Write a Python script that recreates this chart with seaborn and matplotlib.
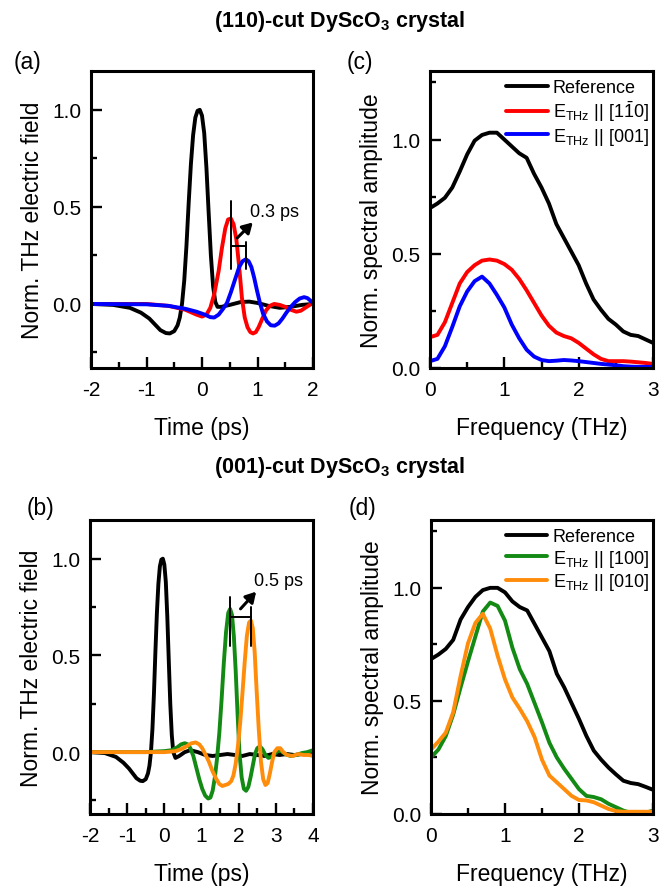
import numpy as np
import pandas as pd
import seaborn as sns
import matplotlib.pyplot as plt
from matplotlib.ticker import MultipleLocator

# ---- panel (a): time traces, (110)-cut
t_a_ref = [-2.0, -1.6, -1.3, -1.1, -0.95, -0.85, -0.75, -0.65, -0.58, -0.5, -0.44, -0.4, -0.36, -0.32,
           -0.28, -0.24, -0.2, -0.16, -0.12, -0.08, -0.04, 0.0, 0.04, 0.08, 0.12, 0.16, 0.2, 0.24, 0.28,
           0.35, 0.5, 0.7, 0.85, 1.0, 1.2, 1.4, 1.6, 1.8, 2.0]
e_a_ref = [0.0, -0.005, -0.02, -0.045, -0.075, -0.105, -0.135, -0.15, -0.152, -0.14, -0.11, -0.07, 0.0,
           0.12, 0.3, 0.52, 0.72, 0.87, 0.96, 0.995, 1.0, 0.97, 0.88, 0.7, 0.47, 0.25, 0.09, 0.01, -0.015,
           -0.015, -0.005, 0.01, 0.012, 0.005, -0.01, -0.02, -0.015, -0.005, 0.0]
t_a_red = [-2.0, -1.0, -0.6, -0.3, -0.1, 0.0, 0.08, 0.15, 0.22, 0.3, 0.36, 0.42, 0.47, 0.52, 0.57, 0.62,
           0.67, 0.72, 0.77, 0.82, 0.87, 0.92, 0.97, 1.02, 1.08, 1.15, 1.22, 1.3, 1.4, 1.5, 1.6, 1.7,
           1.78, 1.86, 1.94, 2.0]
e_a_red = [0.0, 0.0, -0.01, -0.03, -0.055, -0.065, -0.055, -0.02, 0.05, 0.17, 0.29, 0.39, 0.435, 0.44,
           0.41, 0.33, 0.19, 0.03, -0.07, -0.12, -0.145, -0.152, -0.145, -0.12, -0.08, -0.035, -0.01,
           0.0, -0.005, -0.015, -0.03, -0.04, -0.035, -0.02, -0.005, 0.005]
t_a_blue = [-2.0, -1.0, -0.6, -0.3, -0.1, 0.05, 0.15, 0.22, 0.3, 0.38, 0.45, 0.52, 0.6, 0.67, 0.73,
            0.79, 0.84, 0.89, 0.94, 0.99, 1.04, 1.1, 1.17, 1.24, 1.31, 1.38, 1.45, 1.52, 1.6, 1.68,
            1.76, 1.84, 1.9, 1.95, 2.0]
e_a_blue = [0.0, -0.002, -0.01, -0.025, -0.04, -0.055, -0.068, -0.07, -0.055, -0.025, 0.005, 0.06,
            0.13, 0.19, 0.22, 0.23, 0.22, 0.19, 0.135, 0.07, 0.01, -0.05, -0.09, -0.11, -0.112, -0.1,
            -0.075, -0.045, -0.015, 0.01, 0.028, 0.035, 0.03, 0.018, 0.005]

# ---- panel (b): time traces, (001)-cut
t_b_ref = [-2.0, -1.6, -1.3, -1.1, -0.95, -0.85, -0.75, -0.65, -0.58, -0.5, -0.44, -0.4, -0.36, -0.32,
           -0.28, -0.24, -0.2, -0.16, -0.12, -0.08, -0.04, 0.0, 0.04, 0.08, 0.12, 0.16, 0.2, 0.24, 0.3,
           0.4, 0.55, 0.7, 0.9, 1.1, 1.3, 1.5, 1.7, 1.9, 2.1, 2.3, 2.5, 2.7, 2.9, 3.1, 3.3, 3.5, 3.7,
           3.9, 4.0]
e_b_ref = [0.0, -0.005, -0.025, -0.055, -0.085, -0.11, -0.135, -0.148, -0.15, -0.14, -0.11, -0.07, 0.0,
           0.12, 0.3, 0.52, 0.72, 0.87, 0.96, 0.995, 1.0, 0.97, 0.88, 0.7, 0.47, 0.25, 0.09, 0.0, -0.03,
           -0.02, 0.0, 0.01, 0.0, -0.015, -0.02, -0.015, -0.01, -0.015, -0.02, -0.01, -0.015, -0.02,
           -0.01, -0.015, -0.01, -0.015, -0.01, -0.005, 0.0]
t_b_green = [-2.0, -1.0, -0.5, 0.0, 0.2, 0.35, 0.45, 0.55, 0.63, 0.7, 0.78, 0.86, 0.94, 1.02, 1.1, 1.18,
             1.24, 1.3, 1.36, 1.42, 1.48, 1.54, 1.6, 1.66, 1.72, 1.77, 1.82, 1.87, 1.92, 1.97, 2.02,
             2.08, 2.14, 2.2, 2.26, 2.32, 2.38, 2.44, 2.5, 2.57, 2.64, 2.72, 2.8, 2.88, 2.96, 3.05,
             3.15, 3.25, 3.4, 3.55, 3.7, 3.85, 4.0]
e_b_green = [0.0, 0.0, 0.0, 0.005, 0.01, 0.025, 0.04, 0.046, 0.04, 0.02, -0.02, -0.08, -0.14, -0.19,
             -0.225, -0.24, -0.235, -0.2, -0.13, -0.03, 0.1, 0.27, 0.46, 0.62, 0.72, 0.74, 0.71, 0.6,
             0.42, 0.2, 0.0, -0.13, -0.19, -0.2, -0.18, -0.13, -0.07, -0.01, 0.02, 0.03, 0.015,
             -0.015, -0.03, -0.025, -0.01, 0.005, 0.005, -0.01, -0.02, -0.015, -0.005, 0.0, 0.01]
t_b_orange = [-2.0, -1.0, 0.0, 0.3, 0.45, 0.6, 0.72, 0.84, 0.94, 1.02, 1.1, 1.2, 1.3, 1.4, 1.48, 1.56,
              1.64, 1.72, 1.8, 1.86, 1.92, 1.98, 2.04, 2.1, 2.16, 2.22, 2.28, 2.33, 2.38, 2.43, 2.48,
              2.54, 2.6, 2.66, 2.72, 2.78, 2.84, 2.9, 2.96, 3.04, 3.12, 3.2, 3.3, 3.45, 3.6, 3.75,
              3.9, 4.0]
e_b_orange = [0.0, 0.0, 0.0, 0.005, 0.015, 0.03, 0.045, 0.05, 0.04, 0.02, -0.01, -0.05, -0.1, -0.14,
              -0.165, -0.175, -0.17, -0.165, -0.15, -0.12, -0.06, 0.03, 0.15, 0.3, 0.46, 0.6, 0.67,
              0.68, 0.64, 0.52, 0.33, 0.12, -0.05, -0.14, -0.17, -0.16, -0.11, -0.05, 0.0, 0.02, 0.02,
              0.0, -0.015, -0.02, -0.01, -0.015, -0.015, -0.02]

# ---- panels (c), (d): spectra, 0.1 THz steps
freq = [0.0, 0.1, 0.2, 0.3, 0.4, 0.5, 0.6, 0.7, 0.8, 0.9, 1.0, 1.1, 1.2, 1.3, 1.4, 1.5, 1.6, 1.7, 1.8,
        1.9, 2.0, 2.1, 2.2, 2.3, 2.4, 2.5, 2.6, 2.7, 2.8, 2.9, 3.0]
s_c_ref = [0.70, 0.72, 0.745, 0.79, 0.86, 0.935, 0.995, 1.02, 1.03, 1.03, 1.0, 0.97, 0.94, 0.92, 0.85,
           0.79, 0.72, 0.63, 0.57, 0.51, 0.45, 0.37, 0.30, 0.255, 0.215, 0.19, 0.16, 0.145, 0.14, 0.125,
           0.11]
s_c_red = [0.135, 0.145, 0.20, 0.285, 0.37, 0.42, 0.45, 0.47, 0.475, 0.47, 0.455, 0.43, 0.39, 0.34,
           0.285, 0.23, 0.185, 0.155, 0.14, 0.13, 0.11, 0.085, 0.06, 0.04, 0.03, 0.03, 0.03, 0.028,
           0.025, 0.022, 0.018]
s_c_blue = [0.03, 0.04, 0.095, 0.18, 0.27, 0.335, 0.38, 0.40, 0.37, 0.32, 0.265, 0.19, 0.13, 0.08,
            0.05, 0.035, 0.03, 0.032, 0.035, 0.033, 0.03, 0.026, 0.022, 0.018, 0.015, 0.012, 0.008,
            0.006, 0.005, 0.005, 0.005]
s_d_ref = [0.685, 0.705, 0.73, 0.77, 0.86, 0.915, 0.96, 0.99, 1.0, 1.0, 0.98, 0.94, 0.915, 0.9, 0.84,
           0.78, 0.72, 0.62, 0.56, 0.49, 0.42, 0.345, 0.28, 0.24, 0.205, 0.175, 0.147, 0.137, 0.132,
           0.12, 0.107]
s_d_green = [0.25, 0.285, 0.345, 0.44, 0.56, 0.675, 0.785, 0.895, 0.935, 0.92, 0.855, 0.735, 0.64,
             0.575, 0.49, 0.405, 0.315, 0.25, 0.20, 0.155, 0.11, 0.08, 0.075, 0.065, 0.045, 0.03,
             0.015, 0.005, 0.0, 0.005, 0.015]
s_d_orange = [0.285, 0.32, 0.36, 0.45, 0.61, 0.755, 0.845, 0.885, 0.82, 0.70, 0.595, 0.515, 0.465,
              0.41, 0.34, 0.24, 0.17, 0.14, 0.11, 0.08, 0.062, 0.06, 0.052, 0.037, 0.022, 0.013, 0.01,
              0.01, 0.01, 0.01, 0.01]

lab_ref = "Reference"
lab_110 = r"E$_{\rm THz}$ || [1$\bar{\rm 1}$0]"
lab_001 = r"E$_{\rm THz}$ || [001]"
lab_100 = r"E$_{\rm THz}$ || [100]"
lab_010 = r"E$_{\rm THz}$ || [010]"

GREEN = "#138a13"
ORANGE = "#ff8c0a"

sns.set_style("ticks")
plt.rcParams["font.family"] = ["Liberation Sans", "DejaVu Sans"]
plt.rcParams["mathtext.fontset"] = "custom"
plt.rcParams["mathtext.rm"] = "Liberation Sans"
plt.rcParams["mathtext.it"] = "Liberation Sans:italic"
plt.rcParams["mathtext.bf"] = "Liberation Sans:bold"
plt.rcParams["axes.unicode_minus"] = False
for k in ("text.color", "axes.labelcolor", "xtick.color", "ytick.color", "axes.edgecolor"):
    plt.rcParams[k] = "black"

fig = plt.figure(figsize=(6.67, 8.87), dpi=100)
W, H = 667, 887


def box(l, r, t, b):
    return [l / W, 1 - b / H, (r - l) / W, (b - t) / H]


ax_a = fig.add_axes(box(91, 313, 72, 369))
ax_c = fig.add_axes(box(430, 653, 72, 369))
ax_b = fig.add_axes(box(90, 313, 521, 815))
ax_d = fig.add_axes(box(431, 653, 521, 815))

LW = 2.8


def line(ax, x, y, color, label=None):
    sns.lineplot(x=x, y=y, color=color, lw=LW, ax=ax, label=label, legend=False, sort=False)


line(ax_a, t_a_ref, e_a_ref, "black")
line(ax_a, t_a_red, e_a_red, "#ff0000")
line(ax_a, t_a_blue, e_a_blue, "#0000ff")

line(ax_b, t_b_ref, e_b_ref, "black")
line(ax_b, t_b_green, e_b_green, GREEN)
line(ax_b, t_b_orange, e_b_orange, ORANGE)

line(ax_c, freq, s_c_ref, "black", lab_ref)
line(ax_c, freq, s_c_red, "#ff0000", lab_110)
line(ax_c, freq, s_c_blue, "#0000ff", lab_001)

line(ax_d, freq, s_d_ref, "black", lab_ref)
line(ax_d, freq, s_d_green, GREEN, lab_100)
line(ax_d, freq, s_d_orange, ORANGE, lab_010)


def delay_mark(ax, t1, t2, h1, h2, hbar, low, arrow_from, arrow_to, text):
    ax.plot([t1, t1], [low, h1], color="black", lw=1.4)
    ax.plot([t2, t2], [low, h2], color="black", lw=1.4)
    ax.plot([t1, t2], [hbar, hbar], color="black", lw=1.4)
    ax.annotate("", xy=arrow_to, xytext=arrow_from,
                arrowprops=dict(arrowstyle="-|>,head_length=0.6,head_width=0.35", color="black", lw=2.2))
    ax.text(arrow_to[0] - 0.02 * (ax.get_xlim()[1] - ax.get_xlim()[0]), arrow_to[1] + 0.045, text,
            fontsize=13, ha="left", va="center")


for ax in (ax_a, ax_b, ax_c, ax_d):
    for s in ax.spines.values():
        s.set_linewidth(2.2)
        s.set_visible(True)
    ax.tick_params(which="both", direction="in", width=1.7, labelsize=15,
                   top=False, right=False)
    ax.tick_params(axis="x", pad=9)
    ax.tick_params(axis="y", pad=7)
    ax.tick_params(which="major", length=8)
    ax.tick_params(which="minor", length=4.5)

ax_a.set_xlim(-2, 2)
ax_a.set_ylim(-0.33, 1.2)
ax_b.set_xlim(-2, 4)
ax_b.set_ylim(-0.32, 1.2)
for ax in (ax_a, ax_b):
    ax.xaxis.set_major_locator(MultipleLocator(1))
    ax.xaxis.set_minor_locator(MultipleLocator(0.5))
    ax.yaxis.set_major_locator(MultipleLocator(0.5))
    ax.yaxis.set_minor_locator(MultipleLocator(0.25))
    ax.set_xlabel("Time (ps)", fontsize=16.5, labelpad=12)
    ax.set_ylabel("Norm. THz electric field", fontsize=16.5, labelpad=6)

for ax in (ax_c, ax_d):
    ax.set_xlim(0, 3)
    ax.set_ylim(0, 1.3)
    ax.xaxis.set_major_locator(MultipleLocator(1))
    ax.xaxis.set_minor_locator(MultipleLocator(0.5))
    ax.yaxis.set_major_locator(MultipleLocator(0.5))
    ax.yaxis.set_minor_locator(MultipleLocator(0.25))
    ax.set_xlabel("Frequency (THz)", fontsize=16.5, labelpad=12)
    ax.set_ylabel("Norm. spectral amplitude", fontsize=16.5, labelpad=6)
    ax.legend(loc="upper right", bbox_to_anchor=(1.03, 1.01), frameon=False, fontsize=13,
              handlelength=2.3, handletextpad=0.3, labelspacing=0.15, borderaxespad=0.2)

# delay brackets at the peak positions of the two polarisations
pa1, pa2 = t_a_red[int(np.argmax(e_a_red))], t_a_blue[int(np.argmax(e_a_blue))]
delay_mark(ax_a, pa1, pa2, 0.53, 0.32, 0.30, 0.18, (0.6, 0.33), (0.95, 0.43), "0.3 ps")
pb1, pb2 = t_b_green[int(np.argmax(e_b_green))], t_b_orange[int(np.argmax(e_b_orange))]
delay_mark(ax_b, pb1, pb2, 0.80, 0.75, 0.70, 0.55, (2.0, 0.73), (2.52, 0.84), "0.5 ps")

fig.text(340 / W, 1 - 22 / H, r"(110)-cut DyScO$_\mathbf{3}$ crystal", ha="center", va="center",
         fontsize=15.5, fontweight="bold")
fig.text(340 / W, 1 - 468 / H, r"(001)-cut DyScO$_\mathbf{3}$ crystal", ha="center", va="center",
         fontsize=15.5, fontweight="bold")

for x, y, s in [(14, 63, "(a)"), (347, 63, "(c)"), (27, 509, "(b)"), (349, 509, "(d)")]:
    fig.text(x / W, 1 - y / H, s, ha="left", va="center", fontsize=16.5)

fig.savefig("out.png", dpi=100)
